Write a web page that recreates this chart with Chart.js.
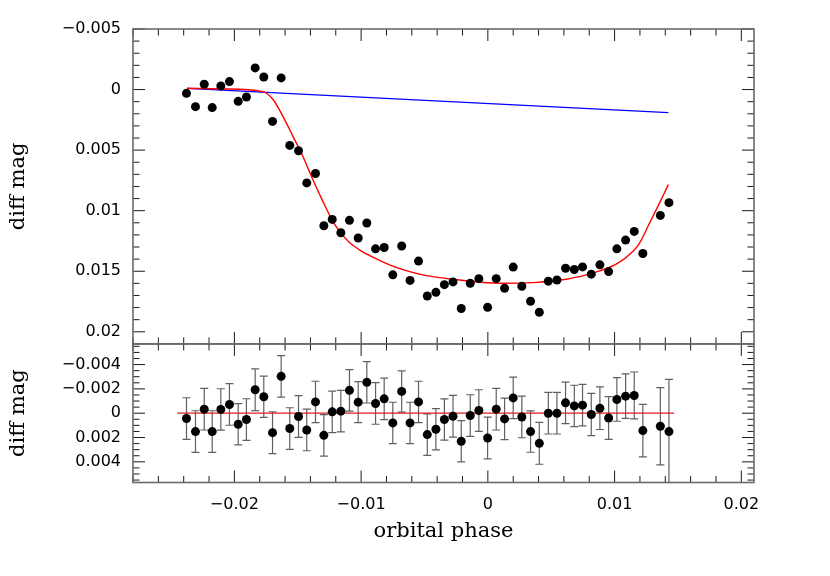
<!DOCTYPE html>
<html>
<head>
<meta charset="utf-8">
<script src="https://cdn.jsdelivr.net/npm/chart.js@4.4.1/dist/chart.umd.min.js"></script>
<style>
html, body { margin: 0; padding: 0; background: #fff; }
</style>
</head>
<body>
<canvas id="lc" width="830" height="576"></canvas>
<script>
// orbital phase of each observation
const phase = [
  -0.02378, -0.02307, -0.02238, -0.02175, -0.02107, -0.02039, -0.01970, -0.01905, -0.01836, -0.01768,
  -0.01699, -0.01631, -0.01563, -0.01494, -0.01429, -0.01360, -0.01294, -0.01228, -0.01160, -0.01092,
  -0.01023, -0.00955, -0.00886, -0.00818, -0.00750, -0.00680, -0.00614, -0.00547, -0.00478, -0.00410,
  -0.00343, -0.00275, -0.00210, -0.00139, -0.00071, -0.00002, 0.00066, 0.00132, 0.00200, 0.00268,
  0.00337, 0.00406, 0.00477, 0.00545, 0.00613, 0.00682, 0.00747, 0.00816, 0.00884, 0.00953,
  0.01018, 0.01087, 0.01155, 0.01223, 0.01361, 0.01429
];
// differential magnitude (top panel)
const mag = [
  0.00031, 0.00141, -0.00044, 0.00149, -0.00030, -0.00066, 0.00097, 0.00061, -0.00179, -0.00104,
  0.00263, -0.00096, 0.00461, 0.00505, 0.00771, 0.00693, 0.01124, 0.01072, 0.01182, 0.01080,
  0.01226, 0.01102, 0.01315, 0.01304, 0.01530, 0.01292, 0.01576, 0.01416, 0.01704, 0.01674,
  0.01611, 0.01588, 0.01808, 0.01599, 0.01561, 0.01798, 0.01561, 0.01640, 0.01466, 0.01624,
  0.01748, 0.01839, 0.01582, 0.01572, 0.01475, 0.01486, 0.01464, 0.01524, 0.01447, 0.01503,
  0.01315, 0.01243, 0.01171, 0.01354, 0.01039, 0.00934
];
// residuals (bottom panel) and their errors
const resid = [
  0.00044, 0.00151, -0.00033, 0.00151, -0.00031, -0.00072, 0.00091, 0.00052, -0.00193, -0.00135,
  0.00160, -0.00303, 0.00126, 0.00027, 0.00138, -0.00093, 0.00182, -0.00011, -0.00017, -0.00188,
  -0.00091, -0.00254, -0.00080, -0.00118, 0.00080, -0.00179, 0.00080, -0.00093, 0.00176, 0.00132,
  0.00052, 0.00025, 0.00231, 0.00019, -0.00022, 0.00204, -0.00033, 0.00047, -0.00126, 0.00031,
  0.00151, 0.00248, 0.00000, 0.00000, -0.00085, -0.00060, -0.00066, 0.00011, -0.00041, 0.00039,
  -0.00113, -0.00140, -0.00146, 0.00143, 0.00107, 0.00151
];
const residErr = [
  0.00171, 0.00171, 0.00171, 0.00171, 0.00170, 0.00171, 0.00170, 0.00171, 0.00171, 0.00170,
  0.00172, 0.00171, 0.00171, 0.00171, 0.00171, 0.00170, 0.00171, 0.00171, 0.00171, 0.00171,
  0.00168, 0.00170, 0.00171, 0.00170, 0.00170, 0.00170, 0.00170, 0.00170, 0.00171, 0.00170,
  0.00170, 0.00171, 0.00170, 0.00171, 0.00171, 0.00171, 0.00171, 0.00171, 0.00171, 0.00171,
  0.00170, 0.00172, 0.00171, 0.00171, 0.00171, 0.00170, 0.00171, 0.00174, 0.00175, 0.00176,
  0.00179, 0.00183, 0.00193, 0.00216, 0.00318, 0.00430
];
// model light curve (red)
const modelPhase = [
  -0.02373, -0.02092, -0.01776, -0.01697, -0.01618, -0.01539, -0.01460, -0.01381, -0.01302, -0.01223,
  -0.01170, -0.01092, -0.01013, -0.00908, -0.00776, -0.00644, -0.00513, -0.00381, -0.00223, 0.00092,
  0.00355, 0.00619, 0.00777, 0.00882, 0.01013, 0.01144, 0.01197, 0.01276, 0.01355, 0.01424
];
const modelMag = [
  -0.00011, -0.00005, 0.00017, 0.00080, 0.00219, 0.00384, 0.00550, 0.00743, 0.00923, 0.01089,
  0.01171, 0.01263, 0.01323, 0.01384, 0.01447, 0.01495, 0.01530, 0.01553, 0.01572, 0.01599,
  0.01594, 0.01566, 0.01530, 0.01497, 0.01442, 0.01337, 0.01268, 0.01102, 0.00936, 0.00785
];
// out-of-transit trend (blue)
const trendPhase = [-0.02373, 0.01424];
const trendMag = [-0.0001, 0.0019];
// zero line of residual panel
const zeroPhase = [-0.0245, 0.0147];
const zeroResid = [0, 0];

const magTicks = [-0.005, 0, 0.005, 0.01, 0.015, 0.02];
const residTicks = [-0.004, -0.002, 0, 0.002, 0.004];
const phaseTicks = [-0.02, -0.01, 0, 0.01, 0.02];

const pts = (xs, ys) => xs.map((v, i) => ({x: v, y: ys[i]}));
const fmt = v => (v < 0 ? '\u2212' : '') + Math.abs(v);

// error bars under the residual points, inward ticks + frames on top
const panelFrame = {
  id: 'panelFrame',
  beforeDatasetsDraw(chart) {
    const {ctx, chartArea, scales: {x, yr}} = chart;
    ctx.save();
    ctx.beginPath();
    ctx.rect(chartArea.left, chartArea.top, chartArea.right - chartArea.left, chartArea.bottom - chartArea.top);
    ctx.clip();
    ctx.strokeStyle = '#606060';
    ctx.lineWidth = 1.2;
    ctx.beginPath();
    phase.forEach((p, i) => {
      const px = x.getPixelForValue(p);
      const y1 = yr.getPixelForValue(resid[i] - residErr[i]);
      const y2 = yr.getPixelForValue(resid[i] + residErr[i]);
      ctx.moveTo(px, y1); ctx.lineTo(px, y2);
      ctx.moveTo(px - 4, y1); ctx.lineTo(px + 4, y1);
      ctx.moveTo(px - 4, y2); ctx.lineTo(px + 4, y2);
    });
    ctx.stroke();
    ctx.restore();
  },
  afterDatasetsDraw(chart) {
    const {ctx, chartArea, scales: {x, y, yr}} = chart;
    const left = chartArea.left, right = chartArea.right;
    ctx.save();
    [[y, 0.001, 5], [yr, 0.0005, 4]].forEach(([s, step, every]) => {
      const top = s.top, bottom = s.bottom;
      ctx.strokeStyle = '#1a1a1a';
      ctx.lineWidth = 1;
      ctx.beginPath();
      for (let k = Math.ceil(x.min / 0.002 - 1e-6); k * 0.002 <= x.max + 1e-9; k++) {
        const px = x.getPixelForValue(k * 0.002);
        const len = k % 5 === 0 ? 12 : 6.5;
        ctx.moveTo(px, top); ctx.lineTo(px, top + len);
        ctx.moveTo(px, bottom); ctx.lineTo(px, bottom - len);
      }
      const lo = Math.min(s.min, s.max), hi = Math.max(s.min, s.max);
      for (let k = Math.ceil(lo / step - 1e-6); k * step <= hi + 1e-9; k++) {
        const py = s.getPixelForValue(k * step);
        const len = k % every === 0 ? 12 : 6.5;
        ctx.moveTo(left, py); ctx.lineTo(left + len, py);
        ctx.moveTo(right, py); ctx.lineTo(right - len, py);
      }
      ctx.stroke();
      ctx.strokeStyle = '#6a6a6a';
      ctx.lineWidth = 1.6;
      ctx.strokeRect(left, top, right - left, bottom - top);
    });
    ctx.restore();
  }
};

Chart.defaults.font.family = '"DejaVu Sans", sans-serif';
Chart.defaults.font.size = 16;
Chart.defaults.color = '#000';

const titleFont = {family: '"DejaVu Serif", serif', size: 21};

new Chart(document.getElementById('lc'), {
  type: 'scatter',
  data: {
    datasets: [
      {
        label: 'data',
        data: pts(phase, mag),
        yAxisID: 'y',
        pointRadius: 4.5,
        pointBorderWidth: 0,
        backgroundColor: '#000',
        order: 0
      },
      {
        label: 'residuals',
        data: pts(phase, resid),
        yAxisID: 'yr',
        pointRadius: 4.5,
        pointBorderWidth: 0,
        backgroundColor: '#000',
        order: 0
      },
      {
        type: 'line',
        label: 'model',
        data: pts(modelPhase, modelMag),
        yAxisID: 'y',
        borderColor: 'rgb(255, 0, 0)',
        borderWidth: 1.4,
        pointRadius: 0,
        cubicInterpolationMode: 'monotone',
        order: 1
      },
      {
        type: 'line',
        label: 'trend',
        data: pts(trendPhase, trendMag),
        yAxisID: 'y',
        borderColor: 'rgb(0, 0, 255)',
        borderWidth: 1.2,
        pointRadius: 0,
        order: 1
      },
      {
        type: 'line',
        label: 'zero',
        data: pts(zeroPhase, zeroResid),
        yAxisID: 'yr',
        borderColor: 'rgb(220, 30, 30)',
        borderWidth: 1.2,
        pointRadius: 0,
        order: 1
      }
    ]
  },
  options: {
    responsive: false,
    animation: false,
    layout: {padding: {left: 0, top: 29, right: 76, bottom: 0}},
    plugins: {legend: {display: false}, tooltip: {enabled: false}},
    scales: {
      x: {
        type: 'linear',
        position: 'bottom',
        min: -0.028,
        max: 0.021,
        grid: {display: false, drawTicks: false},
        border: {display: false},
        afterBuildTicks: s => { s.ticks = phaseTicks.map(v => ({value: v})); },
        afterFit: s => { s.height = 93.5; },
        ticks: {padding: 13, maxRotation: 0, autoSkip: false, callback: v => fmt(v)},
        title: {display: true, text: 'orbital phase', font: titleFont, padding: {top: 0, bottom: 32}}
      },
      yr: {
        type: 'linear',
        position: 'left',
        stack: 'panels',
        stackWeight: 138.5,
        weight: 1,
        reverse: true,
        min: -0.0057,
        max: 0.0057,
        grid: {display: false, drawTicks: false},
        border: {display: false},
        afterBuildTicks: s => { s.ticks = residTicks.map(v => ({value: v})); },
        afterFit: s => { s.width = 133; },
        ticks: {padding: 12, autoSkip: false, callback: v => fmt(v)},
        title: {display: true, text: 'diff mag', font: titleFont, padding: {top: 6, bottom: 0}}
      },
      y: {
        type: 'linear',
        position: 'left',
        stack: 'panels',
        stackWeight: 314.7,
        weight: 2,
        reverse: true,
        min: -0.005,
        max: 0.021,
        grid: {display: false, drawTicks: false},
        border: {display: false},
        afterBuildTicks: s => { s.ticks = magTicks.map(v => ({value: v})); },
        afterFit: s => { s.width = 133; },
        ticks: {padding: 12, autoSkip: false, callback: v => fmt(v)},
        title: {display: true, text: 'diff mag', font: titleFont, padding: {top: 6, bottom: 0}}
      }
    }
  },
  plugins: [panelFrame]
});
</script>
</body>
</html>
